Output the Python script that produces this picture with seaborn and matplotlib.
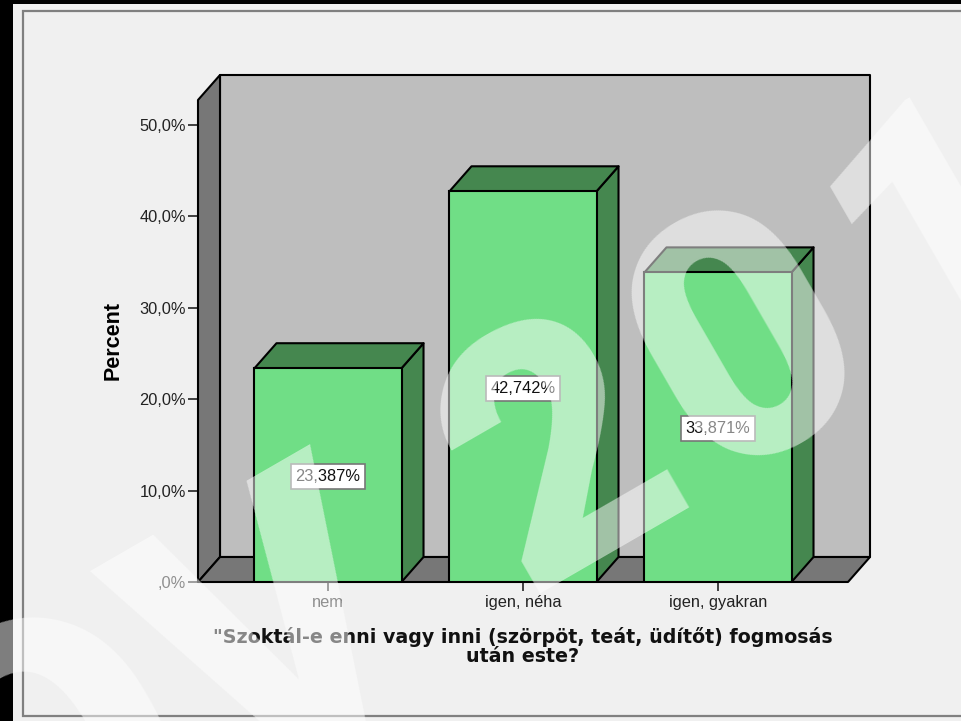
import matplotlib
matplotlib.use("Agg")
import matplotlib.pyplot as plt
from matplotlib.patches import Polygon, Rectangle
import seaborn as sns

categories = ["nem", "igen, néha", "igen, gyakran"]
values = [23.387, 42.742, 33.871]
value_labels = ["23,387%", "42,742%", "33,871%"]
yticks = [0, 10, 20, 30, 40, 50]
ytick_labels = [",0%", "10,0%", "20,0%", "30,0%", "40,0%", "50,0%"]
xlabel = "\"Szoktál-e enni vagy inni (szörpöt, teát, üdítőt) fogmosás\nután este?"
ylabel = "Percent"

W, H = 961, 721
FRONT = "#70DE86"
DARK = "#45874F"
WALL = "#BEBEBE"
SHADE = "#777777"
BG = "#F0F0F0"

sns.set_theme(style="white")
plt.rcParams["font.family"] = ["Liberation Sans", "DejaVu Sans"]

fig = plt.figure(figsize=(W / 100, H / 100), dpi=100, facecolor=BG)


def px_rect(x0, y0, x1, y1, **kw):
    fig.add_artist(Rectangle((x0 / W, 1 - y1 / H), (x1 - x0) / W, (y1 - y0) / H,
                             transform=fig.transFigure, zorder=-1, **kw))


px_rect(0, 0, 13, H, facecolor="black", edgecolor="none")
px_rect(0, 0, W, 4, facecolor="black", edgecolor="none")
px_rect(22.5, 10.5, W + 20, 716, facecolor=BG, edgecolor="#808080", linewidth=1.6)

ax = fig.add_axes([198 / W, 1 - 582 / H, 650 / W, 482 / H])
ax.patch.set_visible(False)

sns.barplot(x=categories, y=values, order=categories, color=FRONT, saturation=1,
            width=0.754, edgecolor="black", linewidth=1.5, ax=ax, zorder=4)

x0, x1 = -0.6667, 2.6667
y0, y1 = 0, 52.73
ax.set_xlim(x0, x1)
ax.set_ylim(y0, y1)
dx = 22 / 195
dy = 25 / 9.14


def poly(points, color, z):
    ax.add_patch(Polygon(points, closed=True, facecolor=color, edgecolor="black",
                         linewidth=1.5, joinstyle="round", clip_on=False, zorder=z))


poly([(x0 + dx, y0 + dy), (x1 + dx, y0 + dy), (x1 + dx, y1 + dy), (x0 + dx, y1 + dy)], WALL, 1)
poly([(x0, y0), (x0 + dx, y0 + dy), (x0 + dx, y1 + dy), (x0, y1)], SHADE, 2)
poly([(x0, y0), (x1, y0), (x1 + dx, y0 + dy), (x0 + dx, y0 + dy)], SHADE, 2)

bars = [p for p in ax.patches if isinstance(p, Rectangle)]
for bar, v, label in zip(bars, values, value_labels):
    l, r = bar.get_x(), bar.get_x() + bar.get_width()
    poly([(r, 0), (r + dx, dy), (r + dx, v + dy), (r, v)], DARK, 3)
    poly([(l, v), (r, v), (r + dx, v + dy), (l + dx, v + dy)], DARK, 3)
    ax.annotate(label, xy=((l + r) / 2, v / 2), xytext=(0, -1.2), textcoords="offset points",
                ha="center", va="center", fontsize=11.8, color="#111111", zorder=6,
                bbox=dict(boxstyle="square,pad=0.3", facecolor="white",
                          edgecolor="#777777", linewidth=1.2))

for s in ax.spines.values():
    s.set_visible(False)
ax.set_yticks(yticks, ytick_labels)
ax.tick_params(axis="y", length=7.2, width=1.2, color="#222222", labelsize=11.8,
               labelcolor="#222222", pad=1.5, left=True)
ax.tick_params(axis="x", length=6.5, width=1.2, color="#222222", labelsize=11.8,
               labelcolor="#222222", pad=3, bottom=True)
ax.set_xlabel(xlabel, fontsize=13.7, fontweight="bold", family="DejaVu Sans", color="#111111",
              linespacing=1.0, labelpad=12)
ax.set_ylabel(ylabel, fontsize=15.5, fontweight="bold", color="black", labelpad=11)


def stamp(s, px, py, size):
    fig.text(px / W, 1 - py / H, s, fontsize=size, fontweight=900, family="Roboto",
             color="white", alpha=0.5, rotation=30, rotation_mode="anchor",
             ha="center", va="baseline", zorder=20, clip_on=False)


stamp("OV", 221, 802, 275)
stamp("2", 613, 546, 250)
stamp("0", 798, 433, 250)
stamp("1", 994, 318, 250)

fig.savefig("out.png", dpi=100, facecolor=fig.get_facecolor())
